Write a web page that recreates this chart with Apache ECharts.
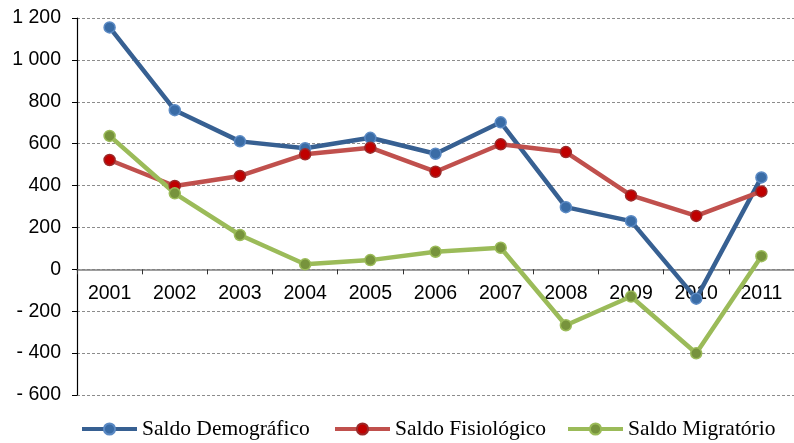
<!doctype html>
<html>
<head>
<meta charset="utf-8">
<title>Saldos</title>
<script src="https://cdn.jsdelivr.net/npm/echarts@6/dist/echarts.min.js"></script>
<style type="text/css">
	html, body {margin:0; padding:0; background:#fff;}
	#chart {width:794px; height:443px;}
</style>
</head>
<body>
<div id="chart"></div>
<script type="text/javascript">
var anos = ['2001', '2002', '2003', '2004', '2005', '2006', '2007', '2008', '2009', '2010', '2011'];
var demografico = [1155, 760, 611, 578, 628, 552, 702, 297, 230, -140, 439];
var fisiologico = [522, 398, 446, 549, 581, 466, 597, 560, 353, 255, 372];
var migratorio = [637, 363, 164, 24, 44, 84, 103, -267, -130, -401, 63];
var nomes = ['Saldo Demográfico', 'Saldo Fisiológico', 'Saldo Migratório'];

var chart = echarts.init(document.getElementById('chart'));

// 1 200 / - 200 style labels
function rotulo(v) {
	var s = String(Math.abs(v)).replace(/\B(?=(\d{3})+(?!\d))/g, ' ');
	return v < 0 ? '- ' + s : s;
}

function serie(nome, dados, cor, corPonto, corBorda) {
	return {
		name: nome,
		type: 'line',
		data: dados,
		symbol: 'circle',
		symbolSize: 11,
		lineStyle: {color: cor, width: 4.5},
		itemStyle: {color: corPonto, borderColor: corBorda, borderWidth: 1.5},
		emphasis: {disabled: true},
		animation: false
	};
}

function legenda(nome, x) {
	return {
		data: [nome],
		left: x,
		top: 418,
		padding: 0,
		itemWidth: 55,
		itemHeight: 14,
		lineStyle: {width: 4},
		textStyle: {fontFamily: 'Liberation Serif', fontSize: 21.5, color: '#000'}
	};
}

// plot area: 0 sits at 18 + 1200/1800*377 px; move the x axis up from the bottom
var topo = 18, baixo = 48, altura = 443 - topo - baixo;
var desloc = -(altura * 600 / 1800);

var option = {
	backgroundColor: '#fff',
	grid: {left: 77, right: -13, top: topo, bottom: baixo},
	legend: [
		legenda(nomes[0], 80),
		legenda(nomes[1], 333),
		legenda(nomes[2], 566)
	],
	xAxis: {
		type: 'category',
		data: anos,
		boundaryGap: true,
		offset: desloc,
		axisLine: {onZero: false, lineStyle: {color: '#7f7f7f', width: 1.5}},
		axisTick: {show: true, inside: false, length: 5, lineStyle: {color: '#333'}},
		axisLabel: {color: '#000', fontFamily: 'Liberation Sans', fontSize: 19.5, margin: 14, interval: 0},
		splitLine: {show: false}
	},
	yAxis: {
		type: 'value',
		min: -600,
		max: 1200,
		interval: 200,
		axisLine: {show: true, lineStyle: {color: '#000', width: 1.2}},
		axisTick: {show: true, length: 5, lineStyle: {color: '#000'}},
		axisLabel: {color: '#000', fontFamily: 'Liberation Sans', fontSize: 19.5, margin: 16, formatter: rotulo},
		splitLine: {show: true, lineStyle: {color: '#8c8c8c', width: 1, type: [3, 2]}}
	},
	series: [
		serie(nomes[0], demografico, '#376092', '#3a6ca6', '#5b8ac4'),
		serie(nomes[1], fisiologico, '#c0504d', '#c00000', '#9b2a2a'),
		serie(nomes[2], migratorio, '#9bbb59', '#77933c', '#9bbb59')
	]
};

chart.setOption(option);
</script>
</body>
</html>
